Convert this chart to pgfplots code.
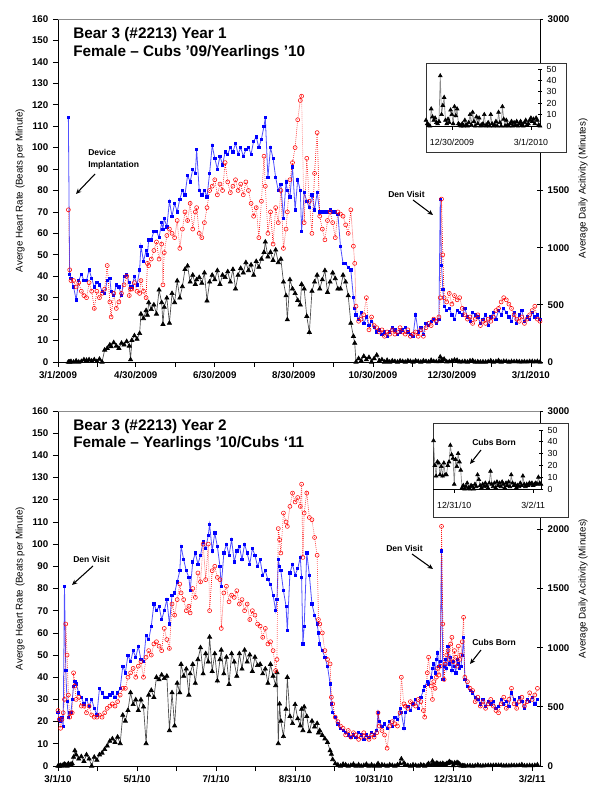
\documentclass[border=0pt]{standalone}
\usepackage{pgfplots}
\pgfplotsset{compat=1.18}
\usepackage{pgfplotstable}
\usepackage{fontspec}
\setmainfont{Liberation Sans}
\usetikzlibrary{arrows.meta}

\definecolor{hrblue}{RGB}{0,0,255}
\definecolor{hrblueline}{RGB}{80,80,255}
\definecolor{hrred}{RGB}{255,0,0}

\newcommand{\tickfont}{\bfseries\fontsize{7.3}{8}\selectfont}
\newcommand{\labfont}{\fontsize{7.3}{8}\selectfont}
\newcommand{\titfont}{\bfseries\fontsize{11.5}{13}\selectfont}
\newcommand{\annfont}{\bfseries\fontsize{6.4}{7}\selectfont}
\newcommand{\insfont}{\fontsize{6.6}{7}\selectfont}

\pgfplotstableread{
d hb hr act
8 114 71 0
9 41 43 0
10 39 38 5
12 35 38 0
14 29 35 10
16 38 37 0
18 41 33 5
20 38 31 20
22 38 30 15
24 43 37 20
26 39 33 10
28 35 25 20
30 37 33 5
32 36 30 25
34 33 32 0
36 32 34 105
38 38 45 120
40 39 28 150
41 33 21 135
43 31 32 170
45 36 25 140
47 35 28 120
49 31 32 165
51 40 36 150
53 41 40 180
55 37 31 140
56 35 34 20
57 35 34 190
59 40 37 230
61 36 33 200
63 43 32 250
64 54 38 420
66 47 33 380
68 52 30 450
69 50 46 410
70 57 45 520
72 57 48 460
74 61 52 500
76 61 56 420
78 58 48 630
80 65 55 520
81 62 36 330
82 67 51 480
84 63 59 560
86 75 62 340
88 68 60 600
90 74 58 520
92 70 66 710
94 76 53 560
96 80 62 660
98 78 70 810
100 87 66 840
102 84 74 700
104 90 62 760
106 88 70 680
107 99 72 720
109 80 60 740
111 78 58 690
113 80 65 780
115 77 72 535
117 88 80 700
119 101 82 760
121 95 85 720
123 90 78 800
125 96 83 680
127 92 80 760
129 98 93 740
131 97 84 790
133 100 79 700
135 98 82 810
137 102 85 640
139 97 80 760
141 100 83 820
143 96 78 780
145 99 84 870
147 100 80 800
149 97 74 850
151 103 68 760
153 105 72 880
155 100 58 830
157 104 75 900
159 110 96 960
160 114 82 1050
162 86 60 920
164 100 70 960
166 95 55 890
168 86 72 980
170 80 65 870
172 83 80 900
174 67 53 700
176 84 62 580
177 80 70 370
179 77 85 720
181 91 93 640
183 71 100 600
185 85 113 540
187 80 122 500
188 61 124 680
190 79 65 640
192 75 95 400
194 72 75 260
196 78 60 620
198 71 88 700
200 79 107 760
202 70 68 640
204 70 62 720
206 70 57 800
208 70 66 610
210 71 70 700
212 70 65 780
214 70 58 730
216 69 70 640
218 54 69 640
220 46 68 760
222 46 64 700
224 44 60 580
226 43 71 340
228 30 54 225
229 25 46 165
230 22 26 0
232 20 19 30
234 23 20 10
236 18 22 50
238 21 30 20
240 17 15 40
242 19 21 0
244 16 17 30
246 14 16 60
248 15 14 10
250 13 15 20
252 14 12 0
254 12 14 15
256 14 13 0
258 16 15 10
260 15 13 5
262 13 14 0
264 14 16 10
266 15 14 5
268 16 13 0
270 14 15 10
272 13 12 5
274 12 13 0
276 22 14 10
278 14 12 5
280 16 15 0
282 13 12 10
284 18 16 5
286 17 18 1
288 19 17 15
290 20 20 5
292 18 19 3
294 20 21 4
295 76 30 44
296 45 76 10
297 34 50 18
298 26 30 25
300 24 28 2
302 25 32 3
304 22 27 10
306 20 31 17
308 24 29 15
310 23 30 1
312 22 25 2
314 25 22 5
316 21 20 0
318 19 21 10
320 23 18 12
322 22 20 0
324 21 22 2
326 18 17 0
328 20 19 2
330 22 18 0
332 17 20 3
334 21 19 10
336 23 21 0
338 20 24 4
340 24 25 12
342 22 28 0
344 25 30 6
346 23 29 5
348 21 27 0
350 19 25 4
352 23 22 3
354 18 20 4
356 22 19 2
358 24 21 1
360 19 18 3
362 21 20 1
364 20 22 5
366 23 24 4
368 21 26 2
370 22 20 5
372 20 19 0
}\topdata

\pgfplotstableread{
d act
284 5
285 2
286 1
287 0
288 15
289 8
290 5
291 7
292 3
293 2
294 4
295 44
296 10
297 18
298 25
299 5
300 2
301 6
302 3
303 14
304 10
305 2
306 17
307 9
308 15
309 2
310 1
311 0
312 2
313 0
314 5
315 1
316 0
317 3
318 10
319 1
320 12
321 4
322 0
323 8
324 2
325 7
326 0
327 1
328 2
329 10
330 0
331 1
332 3
333 0
334 10
335 2
336 0
337 1
338 4
339 0
340 12
341 3
342 0
343 17
344 6
345 0
346 5
347 1
348 0
349 2
350 4
351 0
352 3
353 1
354 4
355 0
356 2
357 4
358 1
359 0
360 3
361 5
362 1
363 2
364 5
365 7
366 4
367 6
368 2
369 7
370 5
371 1
372 0
}\topinset

\pgfplotstableread{
d hb hr act
0 24 25 0
1 21 21 0
2 20 17 5
3 22 21 0
4 18 24 10
5 81 30 15
6 43 64 10
7 29 50 0
8 22 32 20
9 24 22 5
10 24 24 15
11 30 24 20
12 36 42 75
13 38 36 130
14 37 30 95
16 33 31 60
18 31 27 80
20 28 27 40
22 30 24 95
24 27 27 60
26 30 23 0
28 26 22 75
30 23 22 50
32 35 23 95
34 33 22 110
36 31 24 140
38 31 26 170
40 32 27 210
42 33 28 230
44 31 27 200
46 33 29 245
48 35 32 190
50 45 35 430
52 42 35 380
54 50 40 470
56 47 42 620
58 52 44 520
60 49 40 560
62 54 45 470
64 48 47 560
66 47 40 500
68 59 49 190
70 57 52 600
72 63 50 640
74 73 55 580
76 70 56 750
78 72 54 730
80 66 52 770
82 70 62 740
84 75 57 760
86 64 53 300
88 77 73 620
90 78 68 340
92 83 75 700
94 88 82 620
95 99 78 860
97 93 75 760
99 88 70 820
101 85 72 600
102 79 69 780
104 92 80 860
106 96 76 700
108 91 87 900
110 95 83 1000
112 101 100 780
114 98 84 950
116 104 100 880
117 109 70 1090
119 97 88 800
121 105 90 950
123 99 85 720
125 90 84 900
126 81 62 980
128 96 78 780
130 100 81 920
132 95 74 690
134 102 77 950
136 92 76 880
138 97 79 760
140 99 73 950
142 93 75 820
144 100 70 980
146 96 73 880
148 91 66 940
150 98 70 800
152 95 68 920
154 90 64 850
156 93 63 860
158 86 58 780
160 88 62 820
162 84 55 700
164 82 56 860
166 77 52 760
168 70 43 680
169 75 48 790
170 93 107 190
171 90 102 525
172 88 96 380
174 79 114 250
176 72 110 480
177 61 108 750
179 87 117 420
181 91 123 360
183 86 119 520
185 89 121 400
187 94 117 340
188 85 127 480
189 55 94 300
190 63 114 500
192 96 123 420
194 86 112 290
196 73 111 380
198 68 103 330
200 64 95 360
201 60 66 280
202 55 64 300
204 52 60 260
206 49 52 230
208 45 48 200
210 37 46 130
211 28 31 100
212 24 28 55
214 22 22 20
216 19 20 10
218 17 18 0
220 16 17 15
222 15 14 10
224 14 16 0
226 13 13 5
228 14 15 15
230 13 14 0
232 15 12 10
234 14 13 0
236 12 15 5
238 14 13 15
240 13 12 0
242 15 14 10
244 14 13 0
246 16 15 5
247 24 24 20
248 20 18 0
250 18 16 10
252 19 14 5
254 17 8 0
256 20 18 10
258 18 20 5
260 22 19 0
262 21 18 10
264 26 24 20
265 24 40 60
267 17 28 25
268 24 27 10
270 27 26 5
272 25 29 0
274 28 28 10
276 30 27 5
278 26 30 0
280 31 29 10
282 34 25 5
283 36 22 0
285 38 42 10
286 37 49 20
288 40 36 5
289 44 30 41
290 46 38 20
291 42 35 11
292 48 40 23
293 51 44 22
294 45 41 12
295 47 45 19
296 97 108 11
297 39 64 22
298 45 39 12
299 48 46 12
300 44 50 20
301 54 52 23
302 46 48 37
303 49 55 29
304 43 58 26
305 47 47 4
306 45 52 25
307 42 49 19
308 48 45 30
309 46 54 23
310 44 48 16
311 45 50 1
312 50 56 3
313 58 67 0
314 39 40 2
316 36 38 1
318 34 35 3
320 33 34 0
322 31 29 2
324 30 31 8
326 28 27 1
328 30 29 2
330 27 26 3
332 29 28 5
334 28 30 4
336 29 27 5
338 26 25 6
340 27 24 5
342 30 28 6
344 28 31 1
346 29 26 3
348 27 30 2
350 33 35 5
352 30 28 4
354 28 26 3
356 31 29 5
358 29 31 11
360 26 27 2
362 30 29 3
364 29 33 4
366 31 30 3
368 28 32 5
370 30 35 10
}\botdata

\pgfplotstableread{
d act
289 41
290 20
291 11
292 23
293 22
294 12
295 19
296 11
297 22
298 12
299 12
300 20
301 23
302 37
303 29
304 26
305 4
306 25
307 19
308 30
309 23
310 16
311 1
312 3
313 0
314 2
315 5
316 1
317 0
318 3
319 2
320 0
321 4
322 2
323 12
324 8
325 3
326 1
327 4
328 2
329 5
330 3
331 1
332 5
333 15
334 4
335 2
336 5
337 1
338 6
339 3
340 5
341 2
342 6
343 4
344 1
345 5
346 3
347 6
348 2
349 12
350 5
351 3
352 4
353 1
354 3
355 2
356 5
357 3
358 11
359 4
360 2
361 4
362 3
363 5
364 4
365 5
366 3
367 4
368 5
369 4
370 10
371 5
372 4
}\botinset

\pgfplotsset{
  base/.style={anchor=south west, scale only axis, width=361.5pt, xmin=0, xmax=372,
    /pgf/number format/assume math mode=true, /pgf/number format/1000 sep={},
    tick style={black, line width=0.5pt}, axis line style={black, line width=0.6pt},
    ticklabel style={font=\tickfont}, clip=false},
  leftax/.style={base, ymin=0, ymax=160, ytick={0,10,...,160}, axis y line*=left, axis x line*=bottom,
    tick align=outside, major tick length=3.75pt, minor tick length=3.75pt},
  rightax/.style={base, ymin=0, ymax=3000, axis y line*=right, axis x line=none,
    tick align=center, major tick length=4.5pt},
  hrB/.style={color=hrblueline, line width=0.6pt, mark=square*, mark size=0.85pt, mark options={solid, fill=hrblue, draw=hrblue}},
  hrR/.style={color=hrred, line width=0.5pt, densely dotted, mark=o, mark size=1.5pt, mark options={solid, draw=hrred, line width=0.4pt}},
  actS/.style={color=black!70, line width=0.5pt, mark=triangle*, mark size=1.8pt, mark options={solid, fill=black, draw=black}},
  insS/.style={color=black!45, line width=0.5pt, mark=triangle*, mark size=1.6pt, mark options={solid, fill=black, draw=black}},
  inset/.style={anchor=south west, scale only axis, xmax=372, ymin=0, ymax=50, ytick={0,10,...,50},
    axis y line*=right, axis x line*=bottom, clip=false,
    /pgf/number format/assume math mode=true,
    tick style={black, line width=0.5pt}, axis line style={black, line width=0.6pt},
    ticklabel style={font=\insfont}, ytick align=center, major tick length=3pt,
    xtick align=outside},
}

\begin{document}
\begin{tikzpicture}
\path[use as bounding box] (0pt,0pt) rectangle (450pt,599.25pt);

% ===================== TOP PANEL =====================
\begin{axis}[rightax, at={(43.5pt,327.75pt)}, height=257.25pt, ytick={0,500,1000,1500,3000}]
\addplot[actS] table[x=d,y=act]{\topdata};
\end{axis}
\begin{axis}[leftax, at={(43.5pt,327.75pt)}, height=257.25pt,
  xtick={0,60,121,182,243,304,365},
  xticklabels={3/1/2009,4/30/2009,6/30/2009,8/30/2009,10/30/2009,12/30/2009,3/1/2010},
  minor xtick={30,90.5,151.5,212.5,273.5,334.5}]
\addplot[hrB] table[x=d,y=hb]{\topdata};
\addplot[hrR] table[x=d,y=hr]{\topdata};
\end{axis}
\draw[black!45, line width=0.6pt] (43.5pt,585pt) -- (405pt,585pt);

\node[rotate=90, font=\labfont] at (15pt,456.4pt) {Averge Heart Rate (Beats per Minute)};
\node[rotate=90, font=\labfont] at (437.25pt,458pt) {Average Daily Acitivity (Minutes)};
\node[anchor=base west, font=\titfont, inner sep=0pt] at (54.75pt,570pt) {Bear 3 (\#2213) Year 1};
\node[anchor=base west, font=\titfont, inner sep=0pt] at (54.75pt,556.5pt) {Female – Cubs ’09/Yearlings ’10};

\node[anchor=base west, font=\annfont, inner sep=0pt] at (66pt,482.6pt) {Device};
\node[anchor=base west, font=\annfont, inner sep=0pt] at (66pt,473.6pt) {Implantation};
\draw[line width=0.8pt, -{Stealth[length=4pt,width=3.5pt]}] (71.25pt,468.75pt) -- (57pt,453.75pt);
\node[anchor=base west, font=\annfont, inner sep=0pt] at (291pt,450.75pt) {Den Visit};
\draw[line width=0.8pt, -{Stealth[length=4pt,width=3.5pt]}] (309.75pt,449.25pt) -- (324.75pt,438pt);

% top inset
\draw[black!80, fill=white, line width=0.6pt] (319.5pt,485.25pt) rectangle (424.5pt,552pt);
\begin{axis}[inset, at={(319.5pt,504.75pt)}, width=85.5pt, height=42.75pt, xmin=284,
  xtick={304,365}, xticklabels={12/30/2009,3/1/2010},
  xticklabel style={yshift=-3pt}, major tick length=3pt]
\addplot[insS] table[x=d,y=act]{\topinset};
\end{axis}

% ===================== BOTTOM PANEL =====================
\begin{axis}[rightax, at={(43.5pt,24.75pt)}, height=266.25pt, ytick={0,500,1000,1500,2000,3000}]
\addplot[actS] table[x=d,y=act]{\botdata};
\end{axis}
\begin{axis}[leftax, at={(43.5pt,24.75pt)}, height=266.25pt,
  xtick={0,61,122,183,244,305,366},
  xticklabels={3/1/10,5/1/10,7/1/10,8/31/10,10/31/10,12/31/10,3/2/11},
  minor xtick={30.5,91.5,152.5,213.5,274.5,335.5}]
\addplot[hrB] table[x=d,y=hb]{\botdata};
\addplot[hrR] table[x=d,y=hr]{\botdata};
\end{axis}
\draw[black!45, line width=0.6pt] (43.5pt,291pt) -- (405pt,291pt);

\node[rotate=90, font=\labfont] at (15pt,157.9pt) {Averge Heart Rate (Beats per Minute)};
\node[rotate=90, font=\labfont] at (437.25pt,157.9pt) {Average Daily Acitivity (Minutes)};
\node[anchor=base west, font=\titfont, inner sep=0pt] at (54.75pt,276pt) {Bear 3 (\#2213) Year 2};
\node[anchor=base west, font=\titfont, inner sep=0pt] at (54.75pt,263.25pt) {Female – Yearlings ’10/Cubs ‘11};

\node[anchor=base west, font=\annfont, inner sep=0pt] at (54.75pt,177pt) {Den Visit};
\draw[line width=0.8pt, -{Stealth[length=4pt,width=3.5pt]}] (69.75pt,174.75pt) -- (54pt,160.5pt);
\node[anchor=base west, font=\annfont, inner sep=0pt] at (289.5pt,185.25pt) {Den Visit};
\draw[line width=0.8pt, -{Stealth[length=4pt,width=3.5pt]}] (309pt,183.75pt) -- (324.75pt,172.5pt);
\node[anchor=base west, font=\annfont, inner sep=0pt] at (354pt,114.75pt) {Cubs Born};
\draw[line width=0.8pt, -{Stealth[length=4pt,width=3.5pt]}] (360.75pt,111.75pt) -- (352.5pt,101.25pt);

% bottom inset
\draw[black!80, fill=white, line width=0.6pt] (324.75pt,211.5pt) rectangle (426pt,282pt);
\begin{axis}[inset, at={(324.75pt,232.5pt)}, width=81pt, height=44.25pt, xmin=288.6,
  xtick={305,366}, xticklabels={12/31/10,3/2/11},
  xticklabel style={yshift=-3pt}, major tick length=3pt]
\addplot[insS] table[x=d,y=act]{\botinset};
\end{axis}
\node[anchor=base west, font=\annfont, inner sep=0pt] at (354pt,264.75pt) {Cubs Born};
\draw[line width=0.8pt, -{Stealth[length=4pt,width=3.5pt]}] (360.75pt,261.75pt) -- (352.5pt,251.25pt);
\end{tikzpicture}
\end{document}
